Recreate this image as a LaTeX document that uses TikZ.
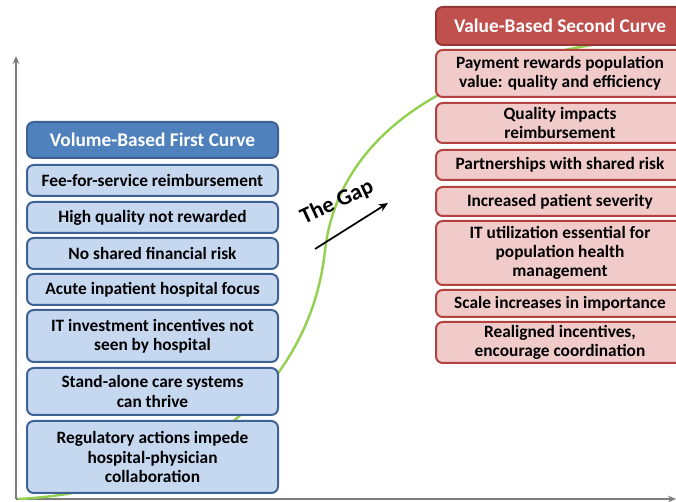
\documentclass[tikz,border=0pt]{standalone}
\usepackage{fontspec}
\setmainfont{Carlito}
\usetikzlibrary{arrows.meta}
\newlength\px \setlength\px{0.75pt}
\definecolor{bfill}{RGB}{197,216,240}
\definecolor{bborder}{RGB}{62,98,148}
\definecolor{bhead}{RGB}{79,129,189}
\definecolor{rfill}{RGB}{240,203,202}
\definecolor{rborder}{RGB}{178,66,64}
\definecolor{rhead}{RGB}{192,80,77}
\definecolor{rheadborder}{RGB}{150,55,53}
\definecolor{curvegreen}{RGB}{146,208,80}
\definecolor{axisgrey}{RGB}{125,125,125}
\begin{document}
\begin{tikzpicture}[x=0.75pt,y=-0.75pt,
  box/.style={rounded corners=5pt, line width=1.5pt, align=center, inner sep=0pt,
    font=\bfseries\fontsize{13}{14.5}\selectfont},
  lbox/.style={box, draw=bborder, fill=bfill, minimum width=251\px},
  rbox/.style={box, draw=rborder, fill=rfill, minimum width=248\px},
  lhead/.style={lbox, fill=bhead, text=white, font=\bfseries\fontsize{14.5}{16}\selectfont},
  rhead/.style={rbox, draw=rheadborder, fill=rhead, text=white, font=\bfseries\fontsize{14.5}{16}\selectfont},
  axis/.style={draw=axisgrey, line width=1.1pt, -{Stealth[length=6pt,width=5pt]}},
  scurve/.style={draw=curvegreen, line width=1.8pt},
  gaparrow/.style={draw=black, line width=1.3pt, -{Stealth[length=7pt,width=6pt]}}
]
\useasboundingbox (0,0) rectangle (676,502);
\clip (0,0) rectangle (676,502);
\fill[white] (0,0) rectangle (676,502);

% axes
\coordinate (ax0) at (16,499);
\coordinate (axy) at (16,56);
\coordinate (axx) at (676,499);
\draw[axis] (ax0) -- (axy);
\draw[axis] (ax0) -- (axx);

% S-curve
\coordinate (c0) at (18,499);
\coordinate (cm) at (325,250);
\coordinate (ce) at (690,35);
\draw[scurve] (c0) .. controls (200,490) and (312,380) .. (cm)
  .. controls (340,125) and (470,45) .. (ce);

% The gap
\coordinate (g1) at (315,249);
\coordinate (g2) at (388,203);
\draw[gaparrow] (g1) -- (g2);
\node[font=\bfseries\fontsize{17}{19}\selectfont, rotate=25] (gap) at (337,202) {The Gap};

% left column
\node[lhead, minimum height=36\px] (lh) at (152.5,140) {Volume-Based First Curve};
\node[lbox, minimum height=31\px] (fee) at (152.5,180.5) {Fee-for-service reimbursement};
\node[lbox, minimum height=31\px] (high) at (152.5,217.5) {High quality not rewarded};
\node[lbox, minimum height=31\px] (noshare) at (152.5,253.5) {No shared financial risk};
\node[lbox, minimum height=31\px] (acute) at (152.5,289.5) {Acute inpatient hospital focus};
\node[lbox, minimum height=52\px] (itinv) at (152.5,336) {IT investment incentives not\\seen by hospital};
\node[lbox, minimum height=47\px] (stand) at (152.5,391.5) {Stand-alone care systems\\can thrive};
\node[lbox, minimum height=72\px] (reg) at (152.5,457) {Regulatory actions impede\\hospital-physician\\collaboration};

% right column
\node[rhead, minimum height=38\px] (rh) at (560,26) {Value-Based Second Curve};
\node[rbox, minimum height=47\px] (pay) at (560,73.5) {Payment rewards population\\value: quality and efficiency};
\node[rbox, minimum height=40\px] (qual) at (560,123) {Quality impacts\\reimbursement};
\node[rbox, minimum height=30\px] (part) at (560,165) {Partnerships with shared risk};
\node[rbox, minimum height=29\px] (incr) at (560,201.5) {Increased patient severity};
\node[rbox, minimum height=64\px] (itut) at (560,253) {IT utilization essential for\\population health\\management};
\node[rbox, minimum height=27\px] (scale) at (560,303.5) {Scale increases in importance};
\node[rbox, minimum height=41\px] (realign) at (560,342.5) {Realigned incentives,\\encourage coordination};
\end{tikzpicture}
\end{document}
